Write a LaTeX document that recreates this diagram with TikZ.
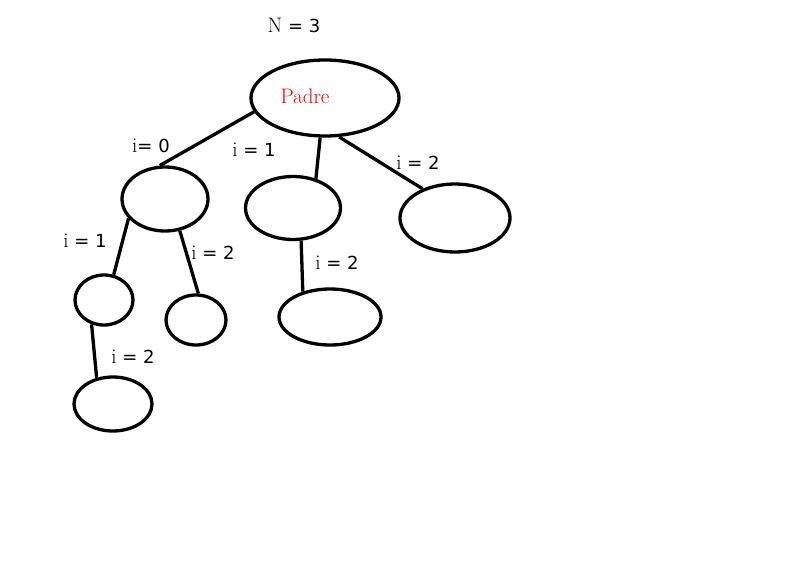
\documentclass[tikz,border=0pt]{standalone}
\usepackage{fontspec}
\setsansfont{DejaVu Sans}
\usetikzlibrary{shapes.geometric}
\newcommand{\rmgrande}[1]{{\rmfamily\fontsize{21}{24}\selectfont #1}}

\begin{document}
\begin{tikzpicture}[x=1pt, y=-1pt,
    nodo/.style={draw, ellipse, line width=3.3pt, inner sep=0pt},
    rama/.style={line width=3.3pt},
    etiq/.style={font=\sffamily\fontsize{18}{21}\selectfont, inner sep=1pt}
]
\useasboundingbox (0,0) rectangle (810,583);

\node[etiq] (n) at (294,25) {\rmgrande{N} = 3};

\node[nodo, minimum width=148pt, minimum height=76pt] (padre) at (325,98) {};
\node[font=\fontsize{21}{24}\selectfont, text=red] (padretxt) at (305,96) {Padre};

\node[nodo, minimum width=86pt, minimum height=64pt] (a) at (165,199) {};
\node[nodo, minimum width=95pt, minimum height=63pt] (b) at (293,208) {};
\node[nodo, minimum width=110pt, minimum height=68pt] (c) at (455,218) {};
\node[nodo, minimum width=58pt, minimum height=50pt] (d) at (104,300) {};
\node[nodo, minimum width=60pt, minimum height=50pt] (e) at (196,320) {};
\node[nodo, minimum width=102pt, minimum height=56pt] (f) at (330,317) {};
\node[nodo, minimum width=78pt, minimum height=54pt] (g) at (113,404) {};

\draw[rama] (padre.191) -- (a.99);
\draw[rama] (padre.263) -- (b.52);
\draw[rama] (padre.290) -- (c.138);
\draw[rama] (a.208) -- (d.69);
\draw[rama] (a.295) -- (e.85);
\draw[rama] (b.284) -- (f.137);
\draw[rama] (d.243) -- (g.122);

\node[etiq] (l0) at (151,146) {\rmgrande{i}= 0};
\node[etiq] (l1) at (254,150) {\rmgrande{i} = 1};
\node[etiq] (l2) at (418,163) {\rmgrande{i} = 2};
\node[etiq] (l3) at (85,241) {\rmgrande{i} = 1};
\node[etiq] (l4) at (213,253) {\rmgrande{i} = 2};
\node[etiq] (l5) at (337,263) {\rmgrande{i} = 2};
\node[etiq] (l6) at (133,357) {\rmgrande{i} = 2};
\end{tikzpicture}
\end{document}
